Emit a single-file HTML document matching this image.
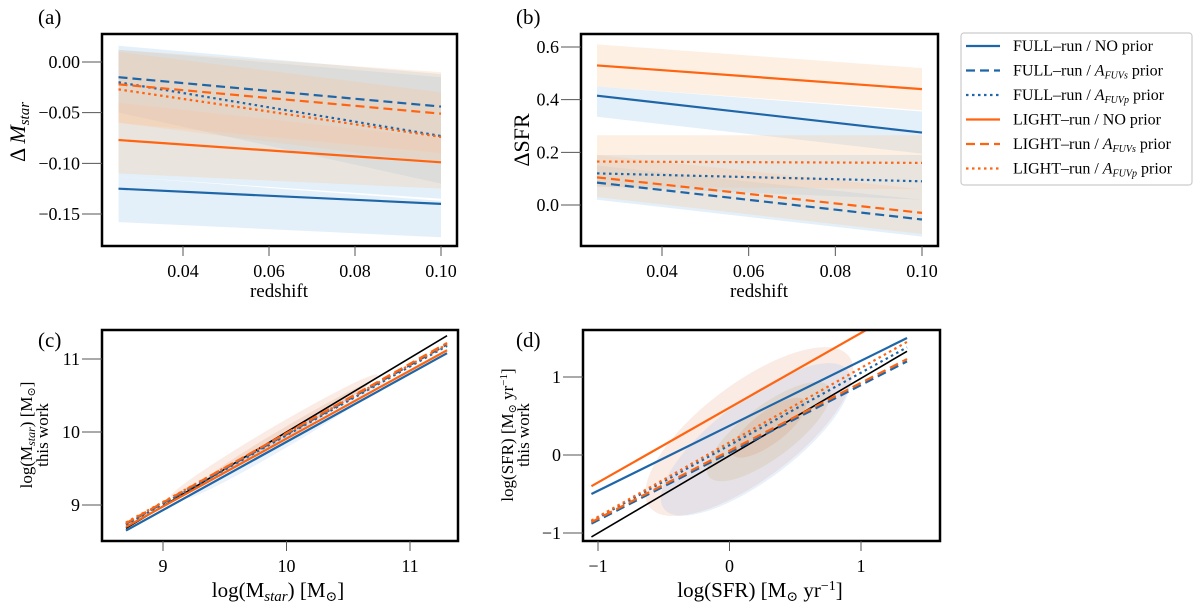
<!DOCTYPE html>
<html><head><meta charset="utf-8"><style>
html,body{margin:0;padding:0;background:#fff;width:1200px;height:609px;overflow:hidden}
svg{font-family:"Liberation Serif","DejaVu Serif",serif;display:block}
</style></head><body>
<svg id="fig" width="1200" height="609" viewBox="0 0 1200 609">
<text x="38" y="24" font-size="21">(a)</text>
<text x="516" y="24" font-size="21">(b)</text>
<text x="38" y="347" font-size="21">(c)</text>
<text x="516" y="347" font-size="21">(d)</text>
<g>
<rect x="961" y="33" width="231" height="152" rx="3" fill="#fff" stroke="#ccc" stroke-width="1.2"/>
</g>
</svg>
<script>
const BLUE='#1f66a8', ORANGE='#ff6410';
const NS='http://www.w3.org/2000/svg';
const fig=document.getElementById('fig');
// Panel a data (values at z=0.025 and z=0.10)
const zRange=[0.025,0.10];
const aNames=['FULL-no','FULL-s','FULL-p','LIGHT-no','LIGHT-s','LIGHT-p'];
const aStart=[-0.125,-0.015,-0.020,-0.077,-0.022,-0.027];
const aEnd=[-0.140,-0.044,-0.073,-0.099,-0.051,-0.074];
const aBandLo0=[-0.158,-0.113,-0.05,-0.110,-0.06,-0.06];
const aBandHi0=[-0.113,0.016,0.012,-0.04,0.012,0.010];
const aBandLo1=[-0.173,-0.135,-0.12,-0.125,-0.09,-0.10];
const aBandHi1=[-0.137,-0.012,-0.015,-0.075,-0.01,-0.03];
// Panel b data
const bStart=[0.415,0.085,0.12,0.53,0.105,0.165];
const bEnd=[0.275,-0.055,0.09,0.44,-0.03,0.16];
const bBandLo0=[0.335,0.02,0.07,0.45,0.03,0.07];
const bBandHi0=[0.45,0.15,0.19,0.61,0.19,0.265];
const bBandLo1=[0.195,-0.12,0.02,0.36,-0.11,0.06];
const bBandHi1=[0.355,0.02,0.19,0.52,0.06,0.265];
const aTicksY=[0.00,-0.05,-0.10,-0.15], aTickLab=['0.00','\u22120.05','\u22120.10','\u22120.15'];
const bTicksY=[0.0,0.2,0.4,0.6], bTickLab=['0.0','0.2','0.4','0.6'];
const zTicks=[0.04,0.06,0.08,0.10], zTickLab=['0.04','0.06','0.08','0.10'];
// Panel c / d fit lines: value at x0 and x1
const cX=[8.7,11.3];
const cStart=[8.65,8.74,8.73,8.70,8.75,8.76];
const cEnd=[11.08,11.2,11.18,11.12,11.22,11.2];
const dX=[-1.05,1.35];
const dStart=[-0.5,-0.88,-0.85,-0.4,-0.86,-0.84];
const dEnd=[1.5,1.2,1.38,1.9,1.23,1.45];
const cTicks=[9,10,11], dTicks=[-1,0,1], dTickLab=['\u22121','0','1'];
const colors=[BLUE,BLUE,BLUE,ORANGE,ORANGE,ORANGE];
const dashes=['none','9,5','2.5,3.5','none','9,5','2.5,3.5'];
const legendLabels=[['FULL\u2013run / NO prior'],['FULL\u2013run / ','s'],['FULL\u2013run / ','p'],['LIGHT\u2013run / NO prior'],['LIGHT\u2013run / ','s'],['LIGHT\u2013run / ','p']];

function el(tag,attrs,parent){const e=document.createElementNS(NS,tag);for(const k in attrs)e.setAttribute(k,attrs[k]);(parent||fig).appendChild(e);return e;}
function lin(d0,d1,p0,p1){return v=>p0+(v-d0)*(p1-p0)/(d1-d0);}

function frame(x0,y0,x1,y1,name){
  const r=el('rect',{x:x0,y:y0,width:x1-x0,height:y1-y0,fill:'none',stroke:'#000','stroke-width':2.5});
  
  
}
function xticks(vals,labs,sx,y1,name){
  vals.forEach((v,i)=>{
    const t=el('line',{x1:sx(v),x2:sx(v),y1:y1,y2:y1+10,stroke:'#555','stroke-width':1});
    
    
    const tx=el('text',{x:sx(v),y:y1+31,'font-size':18,'text-anchor':'middle'});
    tx.textContent=labs[i];
    
    
  });
}
function yticks(vals,labs,sy,x0,name){
  vals.forEach((v,i)=>{
    const t=el('line',{x1:x0-20,x2:x0,y1:sy(v),y2:sy(v),stroke:'#555','stroke-width':1});
    
    
    const tx=el('text',{x:x0-22,y:sy(v)+6,'font-size':18,'text-anchor':'end'});
    tx.textContent=labs[i];
    
    
  });
}
function seriesLines(sx,sy,xs,st,en,name,clip){
  st.forEach((v,i)=>{
    const l=el('line',{x1:sx(xs[0]),y1:sy(v),x2:sx(xs[1]),y2:sy(en[i]),stroke:colors[i],'stroke-width':2.2,'stroke-dasharray':dashes[i]});
    if(clip)l.setAttribute('clip-path',clip);
    
    
  });
}
function bands(sx,sy,lo0,hi0,lo1,hi1,name){
  lo0.forEach((v,i)=>{
    const x0=sx(zRange[0]),x1=sx(zRange[1]);
    const p=el('polygon',{points:`${x0},${sy(hi0[i])} ${x1},${sy(hi1[i])} ${x1},${sy(lo1[i])} ${x0},${sy(v)}`,fill:i<3?'#9ecae9':'#fdc79c','fill-opacity':0.28});
    
    
  });
}
// Panel a
(function(){
  const sx=lin(0.04,0.10,183,441), sy=lin(0,-0.15,62,214);
  bands(sx,sy,aBandLo0,aBandHi0,aBandLo1,aBandHi1,'panel-a');
  seriesLines(sx,sy,zRange,aStart,aEnd,'panel-a');
  frame(102,34,457,246,'panel-a');
  xticks(zTicks,zTickLab,sx,246,'panel-a');
  yticks(aTicksY,aTickLab,sy,102,'panel-a');
  const xl=el('text',{x:279,y:297,'font-size':19,'text-anchor':'middle'});xl.textContent='redshift';
  
  const yl=el('text',{x:0,y:0,'font-size':22,'text-anchor':'middle',transform:'translate(25,132) rotate(-90)'});
  yl.innerHTML='\u0394 <tspan font-style="italic">M</tspan><tspan font-style="italic" font-size="15" dy="4">star</tspan>';
  
})();
// Panel b
(function(){
  const sx=lin(0.04,0.10,662,922), sy=lin(0,0.6,205,47);
  bands(sx,sy,bBandLo0,bBandHi0,bBandLo1,bBandHi1,'panel-b');
  seriesLines(sx,sy,zRange,bStart,bEnd,'panel-b');
  frame(581,34,938,246,'panel-b');
  xticks(zTicks,zTickLab,sx,246,'panel-b');
  yticks(bTicksY,bTickLab,sy,581,'panel-b');
  const xl=el('text',{x:759,y:297,'font-size':19,'text-anchor':'middle'});xl.textContent='redshift';
  
  const yl=el('text',{x:0,y:0,'font-size':22,'text-anchor':'middle',transform:'translate(529,140) rotate(-90)'});
  yl.textContent='\u0394SFR';
  
})();
// Panel c
(function(){
  const sx=lin(9,11,163,410), sy=lin(9,11,505,359);
  const blobs=[['#e8a58a',0.22,9.9,9.95,120,8],['#a8c4ea',0.22,10.0,9.9,115,7],['#d9906a',0.2,10.0,10.0,95,5]];
  blobs.forEach(b=>{
    const cx=sx(b[2]),cy=sy(b[3]);
    const e=el('ellipse',{cx:cx,cy:cy,rx:b[4],ry:b[5],fill:b[0],'fill-opacity':b[1],transform:`rotate(-30.5 ${cx} ${cy})`});
    
  });
  const bl=el('line',{x1:sx(8.7),y1:sy(8.68),x2:sx(11.3),y2:sy(11.32),stroke:'#000','stroke-width':1.6});
  
  seriesLines(sx,sy,cX,cStart,cEnd,'panel-c');
  frame(102,330,458,541,'panel-c');
  xticks(cTicks,cTicks.map(String),sx,541,'panel-c');
  yticks(cTicks,cTicks.map(String),sy,102,'panel-c');
  const xl=el('text',{x:278,y:597,'font-size':21,'text-anchor':'middle'});
  xl.innerHTML='log(M<tspan font-style="italic" font-size="15" dy="4">star</tspan><tspan dy="-4">) [M</tspan><tspan font-size="14" dy="4">\u2299</tspan><tspan dy="-4">]</tspan>';
  
  const yl=el('text',{x:0,y:0,'font-size':17,'text-anchor':'middle',transform:'translate(32,435) rotate(-90)'});
  yl.innerHTML='log(M<tspan font-style="italic" font-size="12" dy="3">star</tspan><tspan dy="-3">) [M</tspan><tspan font-size="11" dy="3">\u2299</tspan><tspan dy="-3">]</tspan>';
  
  const yl2=el('text',{x:0,y:0,'font-size':17,'text-anchor':'middle',transform:'translate(48,435) rotate(-90)'});
  yl2.textContent='this work';
  
})();
// Panel d
(function(){
  const sx=lin(-1,1,598,861), sy=lin(-1,1,533,377);
  const cpEl=el('clipPath',{id:'clipd'});
  el('rect',{x:583,y:330,width:357,height:211},cpEl);
  const blobs=[['#e8a58a',0.22,0.15,0.3,125,48],['#a8c4ea',0.25,0.2,0.2,115,40],['#c8b080',0.22,0.3,0.3,75,26],['#d9906a',0.22,0.3,0.35,45,16]];
  blobs.forEach(b=>{
    const cx=sx(b[2]),cy=sy(b[3]);
    const e=el('ellipse',{cx:cx,cy:cy,rx:b[4],ry:b[5],fill:b[0],'fill-opacity':b[1],transform:`rotate(-37 ${cx} ${cy})`});
    
  });
  const bl=el('line',{x1:sx(-1.05),y1:sy(-1.05),x2:sx(1.35),y2:sy(1.33),stroke:'#000','stroke-width':1.6});
  
  seriesLines(sx,sy,dX,dStart,dEnd,'panel-d','url(#clipd)');
  frame(583,330,940,541,'panel-d');
  xticks(dTicks,dTickLab,sx,541,'panel-d');
  yticks(dTicks,dTickLab,sy,583,'panel-d');
  const xl=el('text',{x:760,y:597,'font-size':21,'text-anchor':'middle'});
  xl.innerHTML='log(SFR) [M<tspan font-size="14" dy="4">\u2299</tspan><tspan dy="-4"> yr</tspan><tspan font-size="14" dy="-7">\u22121</tspan><tspan dy="7">]</tspan>';
  
  const yl=el('text',{x:0,y:0,'font-size':17,'text-anchor':'middle',transform:'translate(513,435) rotate(-90)'});
  yl.innerHTML='log(SFR) [M<tspan font-size="11" dy="3">\u2299</tspan><tspan dy="-3"> yr</tspan><tspan font-size="11" dy="-6">\u22121</tspan><tspan dy="6">]</tspan>';
  
  const yl2=el('text',{x:0,y:0,'font-size':17,'text-anchor':'middle',transform:'translate(529,435) rotate(-90)'});
  yl2.textContent='this work';
  
})();
// Legend
legendLabels.forEach((lab,i)=>{
  const y=46+i*24.5;
  const l=el('line',{x1:966,x2:1000,y1:y,y2:y,stroke:colors[i],'stroke-width':2.2,'stroke-dasharray':dashes[i]});
  
  
  const t=el('text',{x:1013,y:y+5,'font-size':16});
  if(lab.length===1)t.textContent=lab[0];
  else t.innerHTML=lab[0]+'<tspan font-style="italic">A</tspan><tspan font-style="italic" font-size="10" dy="3">FUV'+lab[1]+'</tspan><tspan dy="-3"> prior</tspan>';
  
  
});
</script>
</body></html>
